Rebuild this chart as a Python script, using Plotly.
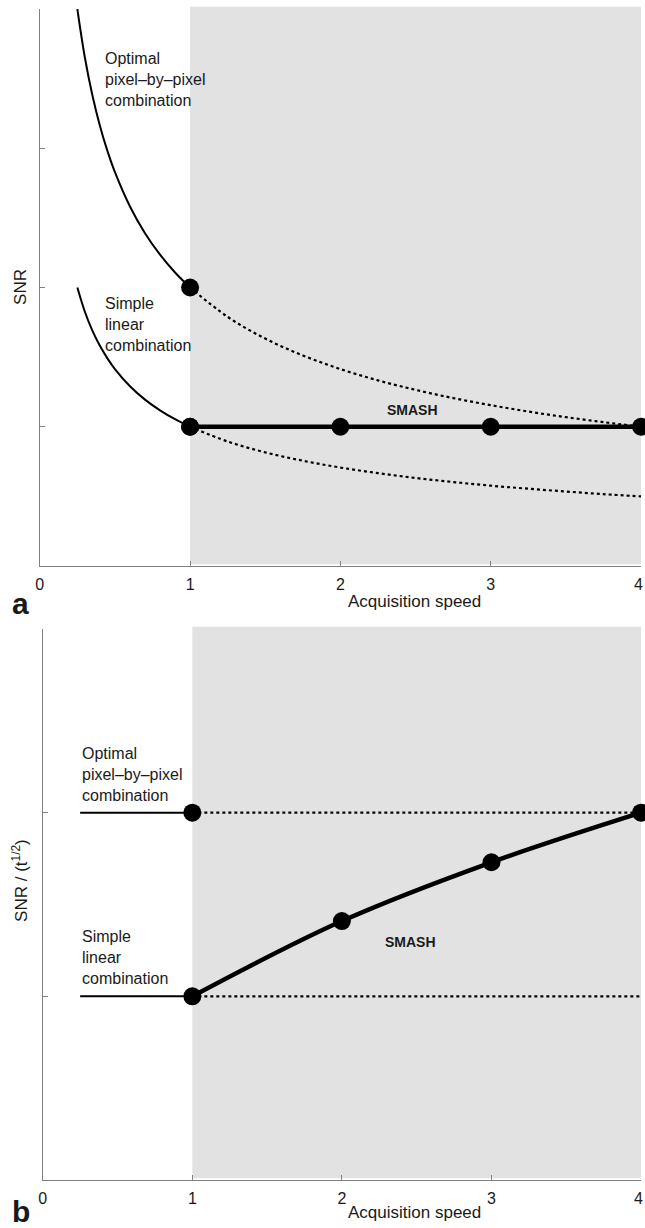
import plotly.graph_objects as go

# ---------- data ----------
# Panel a: SNR vs acquisition speed
opt_x_solid = [0.25, 0.3, 0.35, 0.4, 0.45, 0.5, 0.6, 0.7, 0.8, 0.9, 1.0]
opt_y_solid = [4.0, 3.652, 3.381, 3.162, 2.981, 2.828, 2.582, 2.390, 2.236, 2.108, 2.0]
opt_x_dot = [1.0, 1.25, 1.5, 1.75, 2.0, 2.25, 2.5, 2.75, 3.0, 3.25, 3.5, 3.75, 4.0]
opt_y_dot = [2.0, 1.789, 1.633, 1.512, 1.414, 1.333, 1.265, 1.206, 1.155, 1.109, 1.069, 1.033, 1.0]

lin_x_solid = [0.25, 0.3, 0.35, 0.4, 0.45, 0.5, 0.6, 0.7, 0.8, 0.9, 1.0]
lin_y_solid = [2.0, 1.826, 1.690, 1.581, 1.491, 1.414, 1.291, 1.195, 1.118, 1.054, 1.0]
lin_x_dot = [1.0, 1.25, 1.5, 1.75, 2.0, 2.25, 2.5, 2.75, 3.0, 3.25, 3.5, 3.75, 4.0]
lin_y_dot = [1.0, 0.894, 0.816, 0.756, 0.707, 0.667, 0.632, 0.603, 0.577, 0.555, 0.535, 0.516, 0.5]

smash_x = [1, 2, 3, 4]
smash_a = [1.0, 1.0, 1.0, 1.0]

# Panel b: SNR / sqrt(t) vs acquisition speed
b_opt_x_solid = [0.25, 1.0]
b_opt_y_solid = [2.0, 2.0]
b_opt_x_dot = [1.0, 4.0]
b_opt_y_dot = [2.0, 2.0]
b_lin_x_solid = [0.25, 1.0]
b_lin_y_solid = [1.0, 1.0]
b_lin_x_dot = [1.0, 4.0]
b_lin_y_dot = [1.0, 1.0]
smash_b = [1.0, 1.41, 1.73, 2.0]

x_ticks = [0, 1, 2, 3, 4]
x_tick_labels = ["0", "1", "2", "3", "4"]
ya_ticks = [1, 2, 3, 4]
yb_ticks = [1, 2, 3]

# ---------- layout helpers ----------
W, H = 645, 1228


def px(x):
    return x / W


def py(y):
    return 1 - y / H


FONT = "Liberation Sans, Arial, Helvetica, sans-serif"
GRAY = "#e2e2e2"
AX = "#808080"
TXTC = "#1a1a1a"

fig = go.Figure()


def line(x, y, xa, ya, width=2, dash=None, shape="spline"):
    fig.add_trace(go.Scatter(
        x=x, y=y, xaxis=xa, yaxis=ya, mode="lines",
        line=dict(color="black", width=width, dash=dash, shape=shape, smoothing=1.0),
        showlegend=False, hoverinfo="skip", cliponaxis=False))


def markers(x, y, xa, ya):
    fig.add_trace(go.Scatter(
        x=x, y=y, xaxis=xa, yaxis=ya, mode="markers",
        marker=dict(color="black", size=18, line=dict(width=0)),
        showlegend=False, hoverinfo="skip", cliponaxis=False))


DOT = "3px,3px"

# panel a
line(opt_x_dot, opt_y_dot, "x", "y", width=2.2, dash=DOT)
line(lin_x_dot, lin_y_dot, "x", "y", width=2.2, dash=DOT)
line(opt_x_solid, opt_y_solid, "x", "y", width=2)
line(lin_x_solid, lin_y_solid, "x", "y", width=2)
line(smash_x, smash_a, "x", "y", width=4.5, shape="linear")
markers([1, 1] + smash_x, [opt_y_solid[-1], lin_y_solid[-1]] + smash_a, "x", "y")

# panel b
line(b_opt_x_dot, b_opt_y_dot, "x2", "y2", width=2.2, dash=DOT, shape="linear")
line(b_lin_x_dot, b_lin_y_dot, "x2", "y2", width=2.2, dash=DOT, shape="linear")
line(b_opt_x_solid, b_opt_y_solid, "x2", "y2", width=2, shape="linear")
line(b_lin_x_solid, b_lin_y_solid, "x2", "y2", width=2, shape="linear")
line(smash_x, smash_b, "x2", "y2", width=4.5)
markers([1] + smash_x, [b_opt_y_solid[-1]] + smash_b, "x2", "y2")

axis_common = dict(
    showline=True, linecolor=AX, linewidth=1.2, mirror=False,
    showgrid=False, zeroline=False, ticks="inside", ticklen=5,
    tickcolor=AX, tickwidth=1, fixedrange=True)

# the last tick label sits on the page edge; it is drawn as an annotation below
inner_labels = x_tick_labels[:-1] + [""]

fig.update_layout(
    width=W, height=H,
    margin=dict(l=0, r=0, t=0, b=0),
    paper_bgcolor="white", plot_bgcolor="white",
    font=dict(family=FONT, color=TXTC),
    xaxis=dict(axis_common, domain=[px(36), px(641)], range=[0, 4],
               tickvals=x_ticks, ticktext=inner_labels,
               tickfont=dict(size=16), anchor="y", ticklabelstandoff=4),
    yaxis=dict(axis_common, domain=[py(566), py(9)], range=[0, 4],
               tickvals=ya_ticks, showticklabels=False, anchor="x"),
    xaxis2=dict(axis_common, domain=[px(39), px(641)], range=[0, 4],
                tickvals=x_ticks, ticktext=inner_labels,
                tickfont=dict(size=16), anchor="y2", ticklabelstandoff=4),
    yaxis2=dict(axis_common, domain=[py(1180), py(629)], range=[0, 3],
                tickvals=yb_ticks, showticklabels=False, anchor="x2"),
)

# grey shaded region (acquisition speed > 1)
for xa, ya in (("x", "y"), ("x2", "y2")):
    fig.add_shape(type="rect", xref=xa, yref=ya + " domain",
                  x0=1, x1=4, y0=0.003, y1=1.004,
                  fillcolor=GRAY, line=dict(width=0), layer="below")

TXT = 16


def note(text, x, y, size=TXT, bold=False, xanchor="left", yanchor="middle", angle=0):
    fig.add_annotation(
        text=f"<b>{text}</b>" if bold else text,
        x=px(x), y=py(y), xref="paper", yref="paper",
        xanchor=xanchor, yanchor=yanchor, showarrow=False, textangle=angle,
        align="left", font=dict(size=size, family=FONT, color=TXTC))


# panel a labels
note("Optimal<br>pixel\u2013by\u2013pixel<br>combination", 100, 79)
note("Simple<br>linear<br>combination", 100, 324)
note("SMASH", 411, 410, size=14, bold=True, xanchor="center")
note("SNR", 16, 287, size=17, xanchor="center", angle=-90)
note("Acquisition speed", 413, 601, size=17, xanchor="center")
note("a", 17, 603, size=30, bold=True, xanchor="center")
note(x_tick_labels[-1], 645, 584, size=16, xanchor="right")

# panel b labels
note("Optimal<br>pixel\u2013by\u2013pixel<br>combination", 76, 775)
note("Simple<br>linear<br>combination", 76, 957)
note("SMASH", 409, 942, size=14, bold=True, xanchor="center")
note("SNR / (t<sup>1/2</sup>)", 16, 880, size=17, xanchor="center", angle=-90)
note("Acquisition speed", 413, 1212, size=17, xanchor="center")
note("b", 17, 1211, size=30, bold=True, xanchor="center")
note(x_tick_labels[-1], 645, 1198, size=16, xanchor="right")

fig.write_html(
    "out.html",
    config={"displayModeBar": False},
    post_script="document.documentElement.style.margin='0px';"
                "document.body.style.margin='0px';"
                "document.body.style.padding='0px';"
                "document.body.style.overflow='hidden';"
                "document.documentElement.style.overflow='hidden';",
)
